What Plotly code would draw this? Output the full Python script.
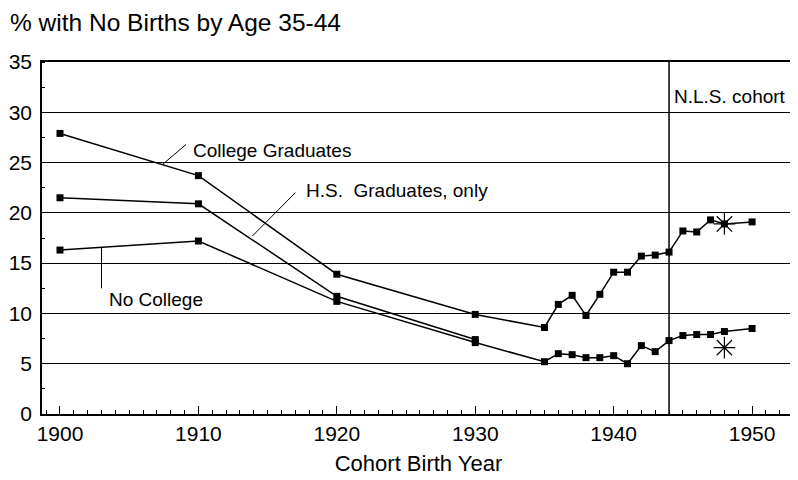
import plotly.graph_objects as go

# cohort birth years and % with no births by age 35-44
college_years = [1900, 1910, 1920, 1930, 1935, 1936, 1937, 1938, 1939, 1940,
                 1941, 1942, 1943, 1944, 1945, 1946, 1947, 1948, 1950]
college_pct = [27.9, 23.7, 13.9, 9.9, 8.6, 10.9, 11.8, 9.8, 11.9, 14.1,
               14.1, 15.7, 15.8, 16.1, 18.2, 18.1, 19.3, 18.9, 19.1]

hs_years = [1900, 1910, 1920, 1930]
hs_pct = [21.5, 20.9, 11.7, 7.4]

nocollege_years = [1900, 1910, 1920, 1930, 1935, 1936, 1937, 1938, 1939, 1940,
                   1941, 1942, 1943, 1944, 1945, 1946, 1947, 1948, 1950]
nocollege_pct = [16.3, 17.2, 11.2, 7.1, 5.2, 6.0, 5.9, 5.6, 5.6, 5.8,
                 5.0, 6.8, 6.2, 7.3, 7.8, 7.9, 7.9, 8.2, 8.5]

# N.L.S. cohort estimates (asterisks)
nls_years = [1948, 1948]
nls_pct = [18.9, 6.6]
nls_start = 1944

x_ticks = [1900, 1910, 1920, 1930, 1940, 1950]
y_ticks = [0, 5, 10, 15, 20, 25, 30, 35]

FONT = "Liberation Sans, Arial, sans-serif"

fig = go.Figure()

for xs, ys in [(college_years, college_pct), (hs_years, hs_pct),
               (nocollege_years, nocollege_pct)]:
    fig.add_trace(go.Scatter(
        x=xs, y=ys, mode="lines+markers",
        line=dict(color="black", width=1.5),
        marker=dict(symbol="square", size=7, color="black"),
        showlegend=False,
    ))

fig.add_trace(go.Scatter(
    x=nls_years, y=nls_pct, mode="markers",
    marker=dict(symbol="asterisk-open", size=18, color="black",
                line=dict(color="black", width=1.2)),
    showlegend=False,
))

# N.L.S. cohort divider
fig.add_shape(type="line", x0=nls_start, x1=nls_start, y0=0, y1=1,
              xref="x", yref="paper", line=dict(color="black", width=1.5))

# leader lines for the series labels
leaders = [
    (1907.4, 24.8, 1909.1, 26.8),
    (1913.9, 17.7, 1917.0, 22.0),
    (1903.0, 16.6, 1903.0, 12.5),
]
for x0, y0, x1, y1 in leaders:
    fig.add_shape(type="line", x0=x0, y0=y0, x1=x1, y1=y1,
                  line=dict(color="black", width=1))

labels = [
    (1909.5, 26.2, "College Graduates"),
    (1917.6, 22.2, "H.S.&nbsp;&nbsp;Graduates, only"),
    (1903.4, 11.4, "No College"),
    (1944.2, 31.6, "N.L.S. cohort"),
]
for x, y, t in labels:
    fig.add_annotation(x=x, y=y, text=t, showarrow=False, xanchor="left",
                       yanchor="middle", font=dict(size=19, color="black"))

fig.add_annotation(x=0, y=1, xref="paper", yref="paper", xshift=-34, yshift=40,
                   text="% with No Births by Age 35-44", showarrow=False,
                   xanchor="left", yanchor="middle",
                   font=dict(size=24.5, color="black"))

fig.update_layout(
    width=798, height=480,
    margin=dict(l=34, r=11, t=54, b=74),
    paper_bgcolor="white", plot_bgcolor="white",
    font=dict(family=FONT, color="black"),
    xaxis=dict(
        range=[1898.7, 1953.1], tickvals=x_ticks, showgrid=False,
        showline=True, linecolor="black", linewidth=1.5, mirror=True,
        ticks="inside", ticklen=8, tickcolor="black",
        minor=dict(dtick=1, ticks="inside", ticklen=4, tickcolor="black"),
        tickfont=dict(size=21), automargin=False,
        title=dict(text="Cohort Birth Year", font=dict(size=22), standoff=12),
        zeroline=False,
    ),
    yaxis=dict(
        range=[0, 35], tickvals=y_ticks, showgrid=True, gridcolor="black",
        gridwidth=1, showline=True, linecolor="black", linewidth=1.5,
        mirror=True, ticks="", tickfont=dict(size=21), ticklabelstandoff=4,
        minor=dict(dtick=2.5, ticks="inside", ticklen=3, tickcolor="black"),
        zeroline=False, automargin=False,
    ),
)

fig.write_html("out.html")
